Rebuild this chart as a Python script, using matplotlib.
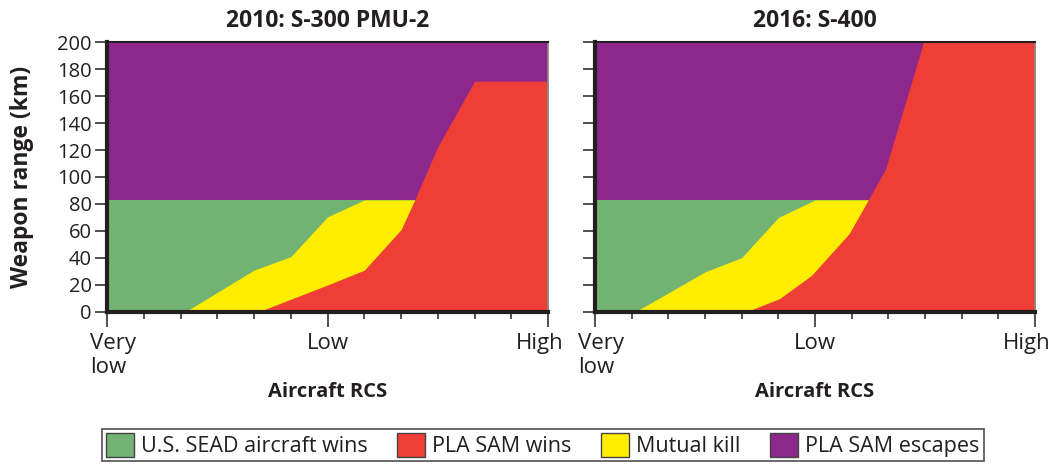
import numpy as np
import matplotlib
matplotlib.use("Agg")
import matplotlib.pyplot as plt
import matplotlib.transforms as mtransforms
from matplotlib.patches import Patch

plt.rcParams['font.family'] = ['Open Sans', 'DejaVu Sans']

# x axis: aircraft RCS on a 0..12 scale (0 = very low, 6 = low, 12 = high)
titles = ['2010: S-300 PMU-2', '2016: S-400']
sead_ceiling = [83, 83]

# upper edge of the mutual-kill (yellow) area
mutual_x = [[0, 2.12, 4, 5, 6, 7, 12],
            [0, 1.09, 3, 4, 5, 6, 12]]
mutual_y = [[0, 0, 31, 41, 70.5, 83, 83],
            [0, 0, 29.7, 40.3, 70, 83, 83]]

# upper edge of the PLA SAM wins (red) area
sam_x = [[0, 4.11, 6, 7, 8, 8.37, 9, 10, 12],
         [0, 4.11, 5.03, 5.9, 6.93, 7.45, 7.92, 8.96, 12]]
sam_y = [[0, 0, 20, 31, 61, 83, 122.5, 171, 171],
         [0, 0, 9.9, 27, 58, 83, 105.7, 200, 200]]

labels = ['U.S. SEAD aircraft wins', 'PLA SAM wins', 'Mutual kill', 'PLA SAM escapes']
colors = ['#72b373', '#ee3e35', '#ffed00', '#8e278c']
y_ticks = list(range(0, 201, 20))
x_ticks = [0, 6, 12]
x_labels = ['Very\nlow', 'Low', 'High']
label_shift = [6, 0, -8]  # px nudges of the x tick labels

fig = plt.figure(figsize=(10.62, 4.67), dpi=100)
axes = [fig.add_axes([0.1008, 0.332, 0.4153, 0.578]),
        fig.add_axes([0.5603, 0.332, 0.4143, 0.578])]

grid = np.linspace(0, 12, 1201)
for i, ax in enumerate(axes):
    ax.fill_between([0, 12], 0, 200, color=colors[3], lw=0)
    ax.fill_between([0, 12], 0, sead_ceiling[i], color=colors[0], lw=0)
    ax.fill_between(grid, 0, np.interp(grid, mutual_x[i], mutual_y[i]),
                    color=colors[2], lw=0)
    ax.fill_between(grid, 0, np.interp(grid, sam_x[i], sam_y[i]),
                    color=colors[1], lw=0)
    ax.set_xlim(0, 12)
    ax.set_ylim(0, 200)
    ax.set_title(titles[i], fontsize=16.5, fontweight='bold', pad=11,
                 color='#231f20')

    ax.set_yticks(y_ticks)
    ax.set_xticks(x_ticks)
    ax.set_xticks(range(13), minor=True)
    ax.set_xticklabels([])
    # tick labels drawn as text so they can be nudged like the original
    for xv, lab, dx in zip(x_ticks, x_labels, label_shift):
        off = mtransforms.ScaledTranslation(dx / 100, -0.21, fig.dpi_scale_trans)
        ax.text(xv, 0, lab, transform=ax.get_xaxis_transform() + off,
                ha='center', va='top', multialignment='left', fontsize=16,
                linespacing=1.2, color='#231f20')
    ax.tick_params(axis='x', which='major', length=11, width=1.2, color='#333333')
    ax.tick_params(axis='x', which='minor', length=5, width=1.2, color='#333333')
    ax.tick_params(axis='y', length=9, width=1.2, color='#333333', labelsize=14.5,
                   pad=2, labelcolor='#231f20')
    if i == 0:
        ax.set_ylabel('Weapon range (km)', fontsize=16.5, fontweight='bold',
                      labelpad=17, color='#231f20')
    else:
        ax.set_yticklabels([])
    ax.text(6, -0.26, 'Aircraft RCS', transform=ax.get_xaxis_transform(),
            ha='center', va='top', fontsize=14.5, fontweight='bold',
            color='#231f20')

    for side in ['left', 'bottom']:
        ax.spines[side].set_linewidth(3)
        ax.spines[side].set_color('#231f20')
    ax.spines['top'].set_linewidth(1.5)
    ax.spines['top'].set_color('#231f20')
    ax.spines['right'].set_linewidth(1.2)
    ax.spines['right'].set_color('#888888')

handles = [Patch(facecolor=c, edgecolor='#444444', lw=1) for c in colors]
leg = fig.legend(handles, labels, loc='center', bbox_to_anchor=(0.511, 0.047),
                 ncol=4, fontsize=15.5, frameon=True, fancybox=False,
                 handlelength=1.3, handleheight=1.3, handletextpad=0.3,
                 columnspacing=1.4, borderpad=0.2, edgecolor='#222222')
leg.get_frame().set_linewidth(1.2)
for t in leg.get_texts():
    t.set_color('#231f20')

fig.savefig('out.png', dpi=100)
